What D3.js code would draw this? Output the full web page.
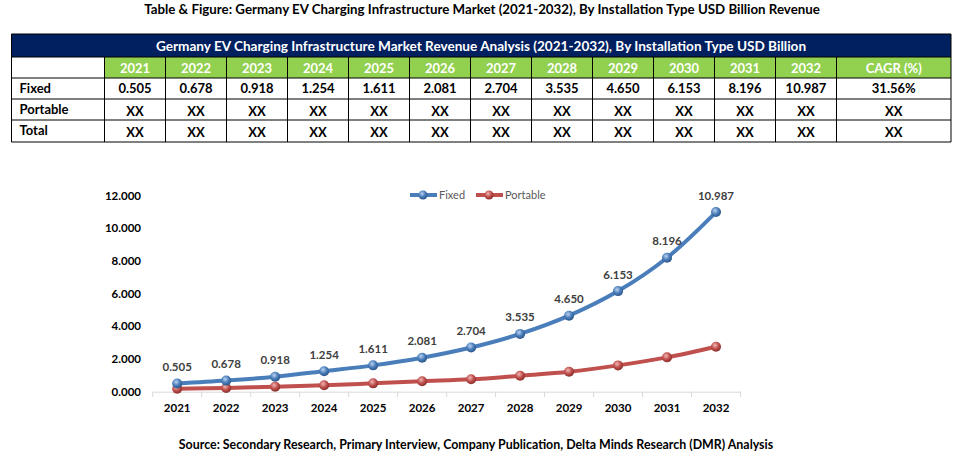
<!DOCTYPE html>
<html><head><meta charset="utf-8">
<script src="https://cdn.jsdelivr.net/npm/d3@7/dist/d3.min.js"></script>
<style>
body{margin:0;background:#fff;}
svg{display:block;font-family:Lato, Carlito, "Liberation Sans", sans-serif;}
</style></head>
<body><svg id="c" width="964" height="465"></svg>
<script>
const years = ["2021","2022","2023","2024","2025","2026","2027","2028","2029","2030","2031","2032"];
const fixedValues = [0.505,0.678,0.918,1.254,1.611,2.081,2.704,3.535,4.650,6.153,8.196,10.987];
const portableValues = [0.18,0.23,0.31,0.39,0.51,0.64,0.76,0.98,1.22,1.61,2.10,2.75];
const fixedCagr = "31.56%";
const tableRows = ["Fixed","Portable","Total"];
const yTicks = [0,2,4,6,8,10,12];
const chartTitle = "Table & Figure: Germany EV Charging Infrastructure Market (2021-2032), By Installation Type USD Billion Revenue";
const tableTitle = "Germany EV Charging Infrastructure Market Revenue Analysis (2021-2032), By Installation Type USD Billion";
const sourceText = "Source: Secondary Research, Primary Interview, Company Publication, Delta Minds Research (DMR) Analysis";

const svg = d3.select("#c");
const defs = svg.append("defs");
function grad(id, light, base, dark){
  const g = defs.append("radialGradient").attr("id",id).attr("cx","40%").attr("cy","35%").attr("r","65%");
  g.append("stop").attr("offset","0%").attr("stop-color",light);
  g.append("stop").attr("offset","55%").attr("stop-color",base);
  g.append("stop").attr("offset","100%").attr("stop-color",dark);
}
grad("gb","#bcd3f0","#4a7ebb","#2c5689");
grad("gr","#f0b8b6","#c0504d","#8a2f2c");

// Title
svg.append("text").attr("x",482).attr("y",14).attr("text-anchor","middle")
  .attr("font-size",13.3).attr("font-weight","bold").attr("fill","#000").text(chartTitle);

// Table
const tx0 = 11.5, tx1 = 951;
const colX = d3.scaleBand().domain(years).range([104.5, 104.5 + 61*12]);
const cagrX0 = 104.5 + 61*12;
const rowY = [34, 57, 78, 99, 120, 142];
const tbl = svg.append("g");
tbl.append("rect").attr("x",tx0).attr("y",rowY[0]).attr("width",tx1-tx0).attr("height",rowY[1]-rowY[0]).attr("fill","#002060");
tbl.append("text").attr("x",481).attr("y",rowY[0]+16.5).attr("text-anchor","middle")
  .attr("font-size",13.6).attr("font-weight","bold").attr("fill","#fff").text(tableTitle);
// green header
tbl.append("rect").attr("x",104.5).attr("y",rowY[1]).attr("width",tx1-104.5).attr("height",rowY[2]-rowY[1]).attr("fill","#92d050");
const headers = years.map(y=>({t:y,x:colX(y),w:colX.bandwidth()})).concat([{t:"CAGR (%)",x:cagrX0,w:tx1-cagrX0}]);
tbl.selectAll("text.h").data(headers).join("text").attr("class","h")
  .attr("x",d=>d.x+d.w/2).attr("y",rowY[1]+16).attr("text-anchor","middle")
  .attr("font-size",13).attr("font-weight","bold").attr("fill","#fff").text(d=>d.t);
// grid lines
const lines = [];
for (let i=1;i<rowY.length;i++) lines.push({x1:tx0,x2:tx1,y1:rowY[i],y2:rowY[i]});
[104.5].concat(years.map(y=>colX(y)+colX.bandwidth())).forEach(x=>lines.push({x1:x,x2:x,y1:rowY[1],y2:rowY[5]}));
lines.push({x1:tx0,x2:tx0,y1:rowY[0],y2:rowY[5]});
lines.push({x1:tx1,x2:tx1,y1:rowY[0],y2:rowY[5]});
lines.push({x1:tx0,x2:tx1,y1:rowY[0],y2:rowY[0]});
tbl.selectAll("line").data(lines).join("line")
  .attr("x1",d=>d.x1).attr("x2",d=>d.x2).attr("y1",d=>d.y1).attr("y2",d=>d.y2)
  .attr("stroke","#000").attr("stroke-width",1);
tableRows.forEach((r,i)=>{
  const y = rowY[2+i]+15;
  tbl.append("text").attr("x",19.5).attr("y",y).attr("font-size",13).attr("font-weight","bold").text(r);
  const vals = i===0 ? fixedValues.map(v=>v.toFixed(3)).concat([fixedCagr]) : years.map(()=>"XX").concat(["XX"]);
  vals.forEach((v,j)=>{
    const h = headers[j];
    tbl.append("text").attr("x",h.x+h.w/2).attr("y",y+(i===0?0:1.5)).attr("text-anchor","middle")
      .attr("font-size",13).attr("font-weight","bold").text(v);
  });
});

// Chart
const x = d3.scaleBand().domain(years).range([152.7, 740.5]);
const y = d3.scaleLinear().domain([0,12]).range([391.7, 195.5]);
const xAxis = svg.append("g").attr("transform","translate(0,391.7)")
  .call(d3.axisBottom(x).tickSize(0).tickPadding(12));
xAxis.select(".domain").attr("stroke","#d9d9d9");
xAxis.selectAll("text").attr("font-size",11.5).attr("font-weight","bold").attr("fill","#000").attr("font-family","Lato, sans-serif");
// boundary ticks
const bounds = years.map(d=>x(d)).concat([x.range()[1]]);
svg.append("g").selectAll("line").data(bounds).join("line")
  .attr("x1",d=>d).attr("x2",d=>d).attr("y1",391.7).attr("y2",397).attr("stroke","#d9d9d9");
const yAxis = svg.append("g").attr("transform","translate(141,0)")
  .call(d3.axisLeft(y).tickValues(yTicks).tickSize(0).tickPadding(0).tickFormat(d3.format(".3f")));
yAxis.select(".domain").remove();
yAxis.selectAll("text").attr("font-size",11.5).attr("font-weight","bold").attr("fill","#000").attr("font-family","Lato, sans-serif");

const cx = d=>x(d)+x.bandwidth()/2;
const line = d3.line().curve(d3.curveCatmullRom.alpha(0.5));
const series = [
  {name:"Fixed", vals:fixedValues, color:"#4a7ebb", g:"gb"},
  {name:"Portable", vals:portableValues, color:"#c0504d", g:"gr"}
];
series.slice().reverse().forEach(s=>{
  const pts = years.map((yr,i)=>[cx(yr), y(s.vals[i])]);
  svg.append("path").attr("d",line(pts)).attr("fill","none").attr("stroke",s.color)
    .attr("stroke-width",4).attr("stroke-linecap","round");
  svg.append("g").selectAll("circle").data(pts).join("circle")
    .attr("cx",d=>d[0]).attr("cy",d=>d[1]).attr("r",5)
    .attr("fill",`url(#${s.g})`);
});
// data labels (Fixed)
svg.append("g").selectAll("text").data(years).join("text")
  .attr("x",cx).attr("y",(d,i)=>y(fixedValues[i])-12.5)
  .attr("text-anchor","middle").attr("font-size",11.5).attr("font-weight","bold").attr("fill","#404040")
  .text((d,i)=>fixedValues[i].toFixed(3));

// legend
const leg = [{s:series[0], x:410},{s:series[1], x:476}];
leg.forEach(l=>{
  const g = svg.append("g");
  g.append("line").attr("x1",l.x).attr("x2",l.x+27).attr("y1",195).attr("y2",195)
    .attr("stroke",l.s.color).attr("stroke-width",4);
  g.append("circle").attr("cx",l.x+13).attr("cy",195).attr("r",4.5).attr("fill",`url(#${l.s.g})`);
  g.append("text").attr("x",l.x+29).attr("y",199).attr("font-size",11).attr("fill","#595959").text(l.s.name);
});

svg.append("text").attr("x",476).attr("y",449).attr("text-anchor","middle")
  .attr("font-size",12.4).attr("font-weight","bold").attr("fill","#000").text(sourceText);
</script></body></html>
